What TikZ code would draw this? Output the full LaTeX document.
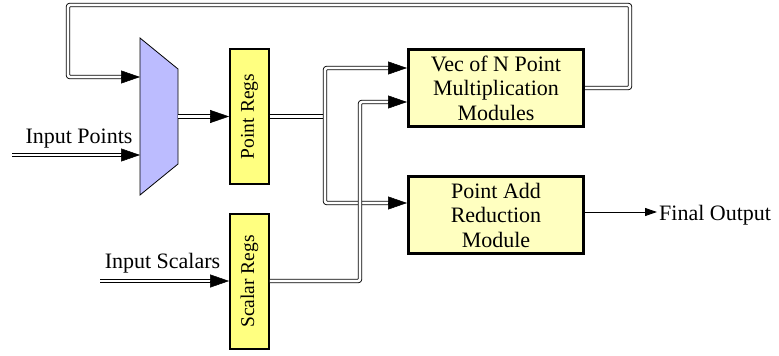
\documentclass[tikz,border=0pt]{standalone}
\usepackage{fontspec}
\setmainfont{Liberation Serif}
\usetikzlibrary{arrows.meta}
\definecolor{muxblue}{RGB}{188,188,255}
\definecolor{regyellow}{RGB}{255,255,128}
\definecolor{modyellow}{RGB}{255,255,192}
\begin{document}
\begin{tikzpicture}[x=1pt,y=-1pt,
  dbl/.style={draw=black, double=white, double distance=2.6pt, line width=0.9pt, rounded corners=2pt},
  tipx/.style={-{Triangle[length=19pt,width=13pt]}, line width=0.5pt},
  regbox/.style={draw=black, fill=regyellow, line width=1.8pt, minimum width=39pt, minimum height=135pt, inner sep=0pt, font=\fontsize{19.5}{22}\selectfont},
  modbox/.style={draw=black, fill=modyellow, line width=3pt, minimum width=175pt, minimum height=77pt, inner sep=0pt, align=center, font=\fontsize{22}{24.5}\selectfont},
  lbl/.style={inner sep=0pt, font=\fontsize{22}{24.5}\selectfont}]
\useasboundingbox (0,0) rectangle (779,356);

% mux
\draw[fill=muxblue, line width=0.8pt] (140,38) -- (178,69) -- (178,164) -- (140,195) -- cycle;
\coordinate (mi1) at (140,77);
\coordinate (mi2) at (140,155);
\coordinate (mo) at (178,116.5);

% boxes
\node[regbox] (preg) at (249.5,116.5) {\rotatebox{90}{Point Regs}};
\node[regbox] (sreg) at (249.5,281.5) {\rotatebox{90}{Scalar Regs}};
\node[modbox] (vec) at (496,88) {Vec of N Point\\Multiplication\\Modules};
\node[modbox] (padd) at (496,215) {Point Add\\Reduction\\Module};

% labels
\node[lbl, anchor=base] (ip) at (79,143) {Input Points};
\node[lbl, anchor=base] (is) at (162.5,268) {Input Scalars};
\node[lbl, anchor=base west] (fo) at (659,220) {Final Output};

% helper coordinates
\coordinate (ipin) at (12,155);
\coordinate (ipb) at (122,155);
\coordinate (isin) at (100,281);
\coordinate (isb) at (211,281);
\coordinate (fb1) at (630,88);
\coordinate (fb2) at (630,5);
\coordinate (fb3) at (68,5);
\coordinate (fb4) at (68,77);
\coordinate (fbb) at (122,77);
\coordinate (mob) at (211,116.5);
\coordinate (pj) at (325,116.5);
\coordinate (pt) at (325,68);
\coordinate (pbt) at (325,203);
\coordinate (v1) at (407,68);
\coordinate (v1b) at (389,68);
\coordinate (a1) at (407,203);
\coordinate (a1b) at (389,203);
\coordinate (s1) at (360,281);
\coordinate (s2) at (360,102);
\coordinate (v2) at (407,102);
\coordinate (v2b) at (389,102);
\coordinate (po) at (585,212);
\coordinate (poe) at (657,212);

% input points
\draw[dbl] (ipin) -- (ipb);
\draw[tipx] ([xshift=-1pt]ipb) -- (mi2);
% input scalars
\draw[dbl] (isin) -- (isb);
\draw[tipx] ([xshift=-1pt]isb) -- (sreg.west |- isb);
% feedback
\draw[dbl] (vec.east) -- (fb1) -- (fb2) -- (fb3) -- (fb4) -- (fbb);
\draw[tipx] ([xshift=-1pt]fbb) -- (mi1);
% mux to point regs
\draw[dbl] (mo) -- (mob);
\draw[tipx] ([xshift=-1pt]mob) -- (preg.west |- mob);
% point regs fan-out
\draw[dbl] (preg.east |- pj) -- (pj);
\draw[dbl] (v1b) -- (pt) -- (pbt) -- (a1b);
\draw[tipx] ([xshift=-1pt]v1b) -- (v1);
\draw[tipx] ([xshift=-1pt]a1b) -- (a1);
% scalar regs to vec
\draw[dbl] (sreg.east |- s1) -- (s1) -- (s2) -- (v2b);
\draw[tipx] ([xshift=-1pt]v2b) -- (v2);
% final output
\draw[line width=1pt, -{Triangle[length=12pt,width=8pt]}] (po) -- (poe);
\end{tikzpicture}
\end{document}
